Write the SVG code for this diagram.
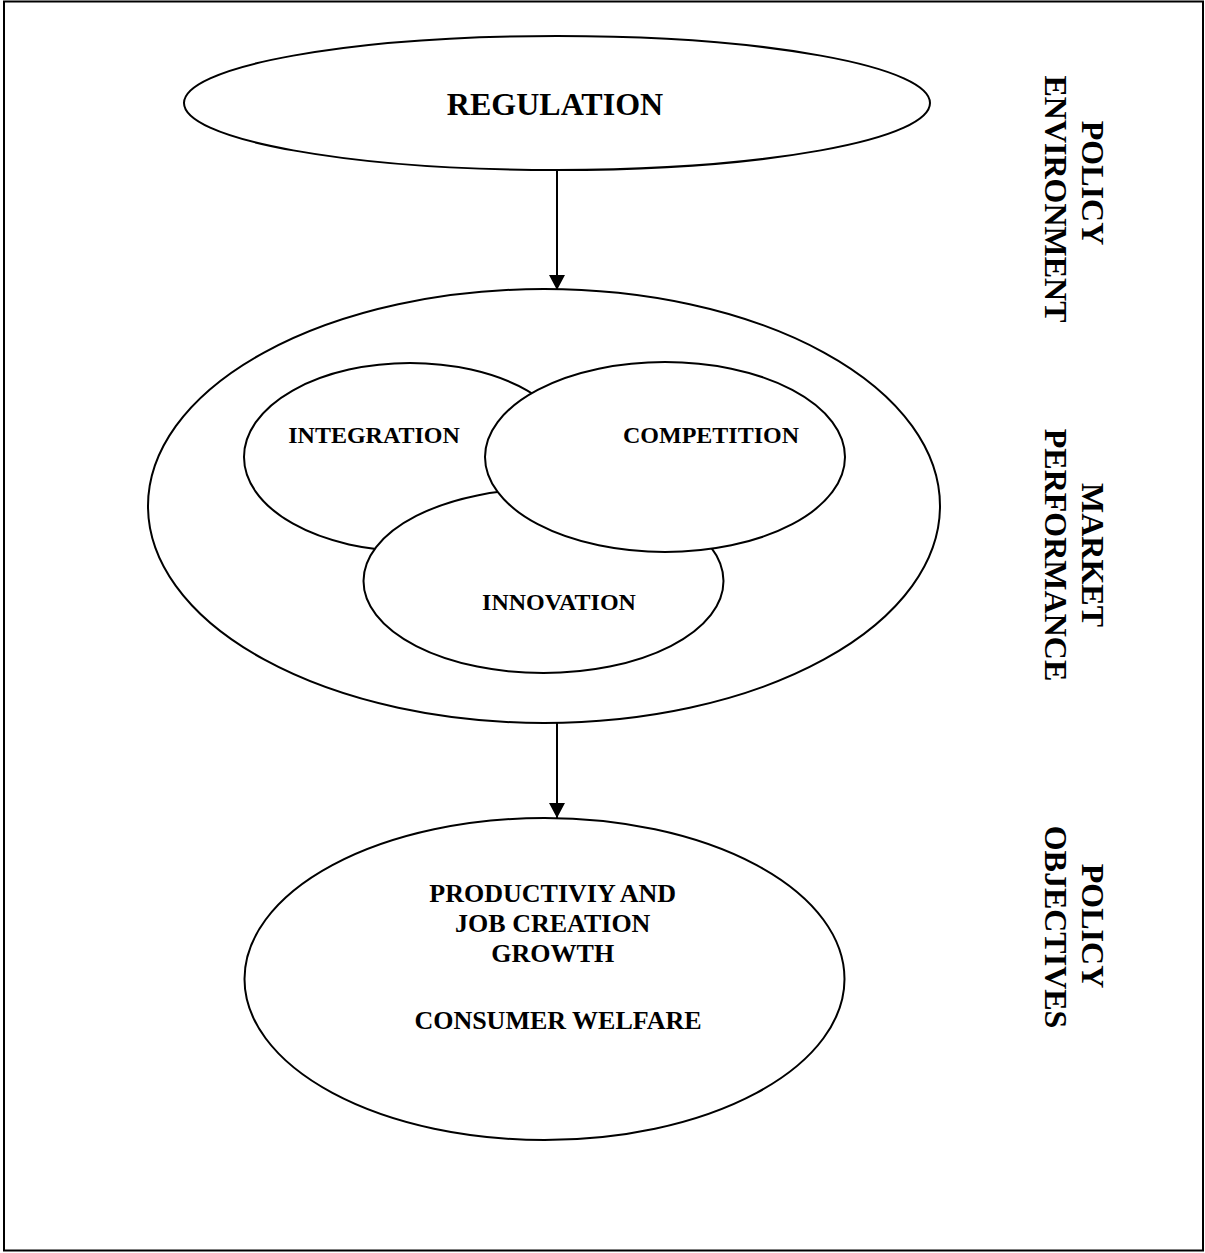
<svg xmlns="http://www.w3.org/2000/svg" width="1205" height="1253" viewBox="0 0 1205 1253">
<defs>
<style>
.shape{fill:#fff;stroke:#000;stroke-width:2}
.lbl{font-family:"Liberation Serif","Times New Roman",serif;font-weight:bold;fill:#000;text-anchor:middle}
.side{font-size:32px}
.conn{stroke:#000;stroke-width:2;fill:none}
</style>
<marker id="arr" markerWidth="16" markerHeight="16" refX="15" refY="8" orient="auto" markerUnits="userSpaceOnUse">
<path d="M0,0 L15,8 L0,16 Z" fill="#000"/>
</marker>
</defs>
<rect x="0" y="0" width="1205" height="1253" fill="#fff"/>
<rect x="4" y="1.5" width="1199" height="1249" fill="none" stroke="#000" stroke-width="2"/>

<g id="regulation">
<ellipse class="shape" cx="557" cy="103" rx="373" ry="67"/>
<text class="lbl" x="555" y="115" font-size="32">REGULATION</text>
</g>

<g id="market">
<ellipse class="shape" cx="544" cy="506" rx="396" ry="217"/>
</g>

<g id="integration">
<ellipse class="shape" cx="410" cy="457" rx="166" ry="94"/>
<text class="lbl" x="374" y="443" font-size="24">INTEGRATION</text>
</g>

<g id="innovation">
<ellipse class="shape" cx="543.5" cy="581" rx="180" ry="92"/>
<text class="lbl" x="559" y="610" font-size="24">INNOVATION</text>
</g>

<g id="competition">
<ellipse class="shape" cx="665" cy="457" rx="180" ry="95"/>
<text class="lbl" x="711" y="443" font-size="24">COMPETITION</text>
</g>

<g id="objectives">
<ellipse class="shape" cx="544.5" cy="979" rx="300" ry="161"/>
<text class="lbl" font-size="26">
<tspan x="556" y="902">PRODUCTIVIY AND</tspan>
<tspan x="556" y="932">JOB CREATION</tspan>
<tspan x="556" y="962">GROWTH</tspan>
<tspan x="558" y="1029">CONSUMER WELFARE</tspan>
</text>
</g>

<g id="side-labels">
<text class="lbl side" transform="translate(1082,183) rotate(90)">POLICY</text>
<text class="lbl side" transform="translate(1045,199) rotate(90)">ENVIRONMENT</text>
<text class="lbl side" transform="translate(1082,555) rotate(90)">MARKET</text>
<text class="lbl side" transform="translate(1045,555) rotate(90)">PERFORMANCE</text>
<text class="lbl side" transform="translate(1082,926) rotate(90)">POLICY</text>
<text class="lbl side" transform="translate(1045,927) rotate(90)">OBJECTIVES</text>
</g>

<g id="connectors">
<line class="conn" x1="557" y1="170" x2="557" y2="290" marker-end="url(#arr)"/>
<line class="conn" x1="557" y1="723" x2="557" y2="818" marker-end="url(#arr)"/>
</g>
</svg>
